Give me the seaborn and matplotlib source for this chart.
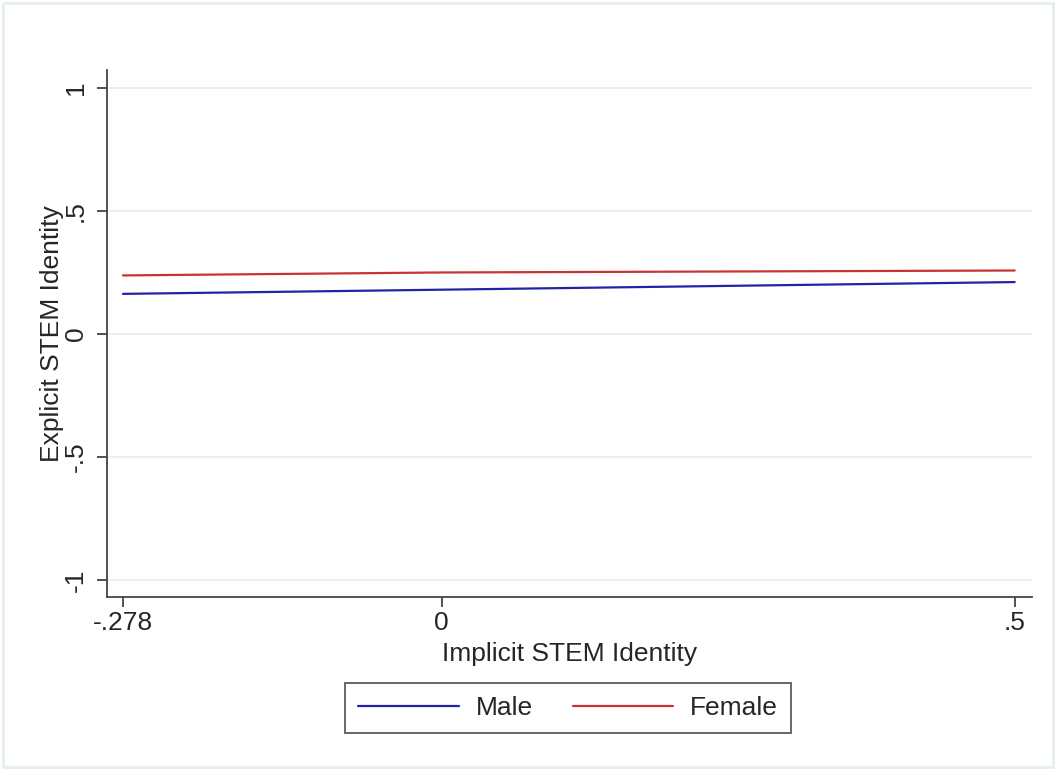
import pandas as pd
import seaborn as sns
import matplotlib.pyplot as plt
from matplotlib.patches import Rectangle

# predicted values
implicit = [-0.278, 0.0, 0.5]
male = [0.163, 0.180, 0.211]
female = [0.238, 0.250, 0.258]
groups = ["Male", "Female"]
colors = {"Male": "#2323a8", "Female": "#c83434"}

df = pd.DataFrame({
    "Implicit": implicit * 2,
    "Explicit": male + female,
    "Group": ["Male"] * len(implicit) + ["Female"] * len(implicit),
})

sns.set_style("white")
plt.rcParams["font.family"] = ["Liberation Sans", "DejaVu Sans"]

fig = plt.figure(figsize=(10.57, 7.7), dpi=100)
fig.patch.set_facecolor("white")
fig.add_artist(Rectangle((0.003, 0.004), 0.993, 0.992, transform=fig.transFigure,
                         fill=False, edgecolor="#e6eef0", linewidth=2))
ax = fig.add_axes([0.1012, 0.2247, 0.875, 0.6844])

sns.lineplot(data=df, x="Implicit", y="Explicit", hue="Group", hue_order=groups,
             palette=colors, linewidth=1.6, ax=ax, legend=False)

ax.set_xlim(-0.292, 0.515)
ax.set_ylim(-1.069, 1.073)
ax.set_xticks([-0.278, 0, 0.5])
ax.set_xticklabels(["-.278", "0", ".5"])
ax.set_yticks([-1, -0.5, 0, 0.5, 1])
ax.set_yticklabels(["-1", "-.5", "0", ".5", "1"], rotation=90, va="center")
ax.tick_params(axis="both", which="both", direction="out", length=7, width=1.2,
               color="#333333", labelsize=19, bottom=True, left=True)
ax.tick_params(axis="x", pad=3)
ax.tick_params(axis="y", pad=7)
ax.yaxis.grid(True, color="#e4eef0", linewidth=1.2)
ax.xaxis.grid(False)
for s in ["top", "right"]:
    ax.spines[s].set_visible(False)
for s in ["left", "bottom"]:
    ax.spines[s].set_color("#444444")
    ax.spines[s].set_linewidth(1.3)

ax.set_xlabel("Implicit STEM Identity", fontsize=19, labelpad=5)
ax.set_ylabel("Explicit STEM Identity", fontsize=19, labelpad=0)

handles = [plt.Line2D([], [], color=colors[g], linewidth=1.6) for g in groups]
leg = fig.legend(handles, groups, loc="center", bbox_to_anchor=(0.5375, 0.0805),
                 ncol=2, fontsize=19, frameon=True, fancybox=False,
                 handlelength=3.8, columnspacing=1.5, handletextpad=0.65,
                 borderpad=0.5)
leg.get_frame().set_edgecolor("#333333")
leg.get_frame().set_linewidth(1.3)

plt.savefig("out.png", dpi=100)
